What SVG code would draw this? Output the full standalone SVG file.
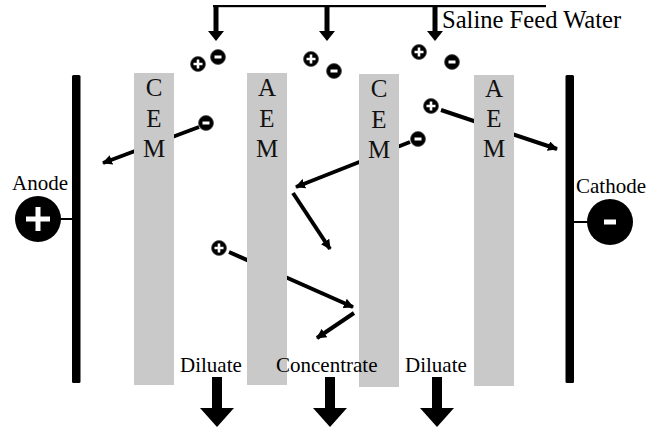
<svg xmlns="http://www.w3.org/2000/svg" xmlns:xlink="http://www.w3.org/1999/xlink" width="649" height="427" viewBox="0 0 649 427">
<style>
.mem{fill:#c9c9c9}
.lbl{font-family:'Liberation Serif','DejaVu Serif',serif;font-size:21px;fill:#000}
.mtx{font-family:'Liberation Serif','DejaVu Serif',serif;font-size:25px;fill:#111;text-anchor:middle}
.ion{stroke:#000;stroke-width:4;fill:none;marker-end:url(#ah)}
.bar{fill:#000}
</style>
<defs>
<marker id="ah" markerUnits="userSpaceOnUse" markerWidth="12" markerHeight="10" refX="9" refY="5" orient="auto">
<path d="M0,0 L10,5 L0,10 z" fill="#000"/>
</marker>
<g id="pos"><circle r="7.5" fill="#000" stroke="#555" stroke-width="0.8"/><path d="M-4.5,0H4.5M0,-4.5V4.5" stroke="#fff" stroke-width="2.6"/></g>
<g id="neg"><circle r="7.5" fill="#000" stroke="#555" stroke-width="0.8"/><path d="M-3.5,0H3.5" stroke="#fff" stroke-width="3"/></g>
</defs>

<g id="connectors">
<line class="ion" x1="199" y1="127" x2="103" y2="163"/>
<line class="ion" x1="410" y1="142" x2="296" y2="187"/>
<line class="ion" x1="293" y1="193" x2="330" y2="249"/>
<line class="ion" x1="229" y1="252" x2="353" y2="307"/>
<line class="ion" x1="354" y1="313" x2="317" y2="338"/>
<line class="ion" x1="441" y1="110" x2="557" y2="149"/>
</g>

<g id="feed">
<rect x="213" y="5" width="333" height="2.2" fill="#000"/>
<rect x="213.5" y="6" width="5" height="26" fill="#000"/>
<polygon points="208,31 224,31 216,41" fill="#000"/>
<rect x="324.5" y="6" width="5" height="26" fill="#000"/>
<polygon points="319,31 335,31 327,41" fill="#000"/>
<rect x="432.5" y="6" width="5" height="26" fill="#000"/>
<polygon points="427,31 443,31 435,41" fill="#000"/>
<text class="lbl" x="442" y="28" style="font-size:24.6px">Saline Feed Water</text>
</g>

<g id="ions">
<use xlink:href="#pos" x="198" y="64"/>
<use xlink:href="#neg" x="218" y="57"/>
<use xlink:href="#pos" x="311" y="59"/>
<use xlink:href="#neg" x="334" y="71"/>
<use xlink:href="#pos" x="419" y="52"/>
<use xlink:href="#neg" x="452" y="62"/>
<use xlink:href="#neg" x="206" y="123"/>
<use xlink:href="#neg" x="418" y="139"/>
<use xlink:href="#pos" x="431" y="106"/>
<use xlink:href="#pos" x="219" y="248"/>
</g>

<g id="cem1"><rect class="mem" x="134" y="73" width="40" height="312"/>
<text class="mtx" x="154" y="96">C</text><text class="mtx" x="154" y="127">E</text><text class="mtx" x="154" y="157">M</text></g>
<g id="aem1"><rect class="mem" x="247" y="73" width="40" height="312"/>
<text class="mtx" x="267" y="96">A</text><text class="mtx" x="267" y="127">E</text><text class="mtx" x="267" y="157">M</text></g>
<g id="cem2"><rect class="mem" x="359" y="74" width="40" height="313"/>
<text class="mtx" x="379" y="97">C</text><text class="mtx" x="379" y="128">E</text><text class="mtx" x="379" y="158">M</text></g>
<g id="aem2"><rect class="mem" x="474" y="75" width="40" height="311"/>
<text class="mtx" x="494" y="97">A</text><text class="mtx" x="494" y="127">E</text><text class="mtx" x="494" y="157">M</text></g>

<g id="anode">
<rect class="bar" x="72" y="75" width="8.5" height="308" rx="1.5"/>
<line x1="55" y1="219" x2="74" y2="219" stroke="#000" stroke-width="2"/>
<circle cx="38" cy="219" r="23" fill="#000"/>
<path d="M26,219H50M38,207V231" stroke="#fff" stroke-width="5"/>
<text class="lbl" x="12" y="190">Anode</text>
</g>

<g id="cathode">
<rect class="bar" x="565.5" y="75" width="8.5" height="308" rx="1.5"/>
<line x1="572" y1="222" x2="590" y2="222" stroke="#000" stroke-width="2"/>
<circle cx="610" cy="222" r="23" fill="#000"/>
<rect x="604" y="219.5" width="12" height="5" fill="#fff"/>
<text class="lbl" x="576" y="193">Cathode</text>
</g>

<g id="outlets">
<text class="lbl" x="180" y="372">Diluate</text>
<text class="lbl" x="276" y="372">Concentrate</text>
<text class="lbl" x="405" y="372">Diluate</text>
<rect x="212" y="377" width="10" height="31" fill="#000"/>
<polygon points="200,408 234,408 217,427" fill="#000"/>
<rect x="325" y="377" width="10" height="31" fill="#000"/>
<polygon points="313,408 347,408 330,427" fill="#000"/>
<rect x="432" y="377" width="10" height="31" fill="#000"/>
<polygon points="420,408 454,408 437,427" fill="#000"/>
</g>
</svg>
